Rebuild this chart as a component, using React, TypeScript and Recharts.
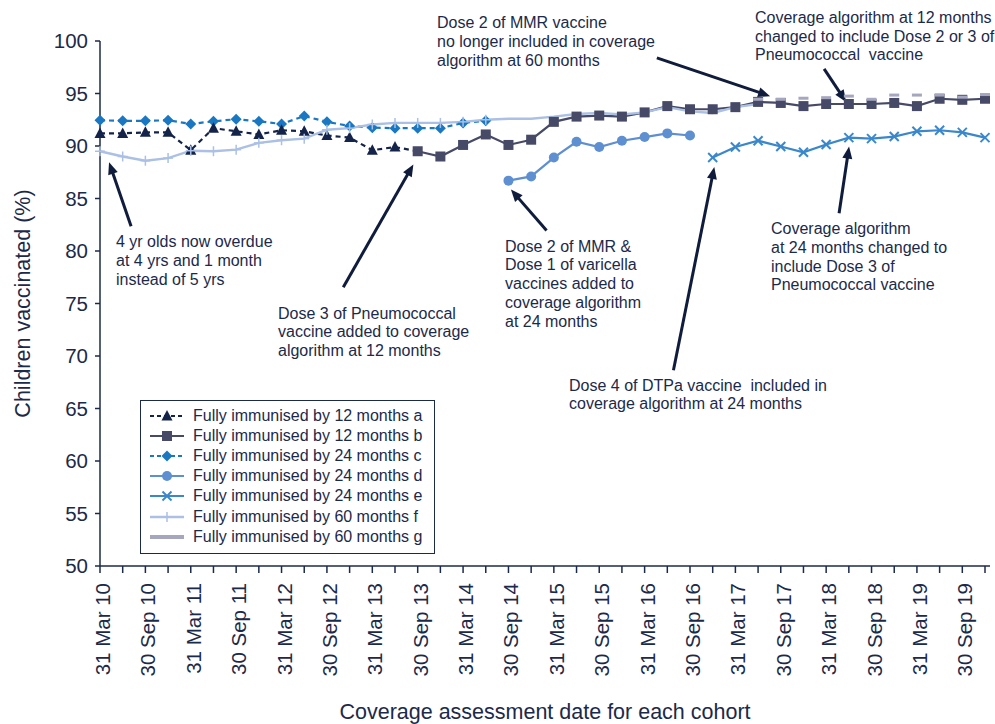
import React from "react";
import { LineChart, Line, XAxis, YAxis, ReferenceLine, Legend } from "recharts";

const INK = "#1c2a4a";
const ARROW = "#101c3c";
const FONT = '"Liberation Sans", Arial, Helvetica, sans-serif';

// quarterly cohorts, one row per assessment date
const quarters = [
  "31 Mar 10", "30 Jun 10", "30 Sep 10", "31 Dec 10",
  "31 Mar 11", "30 Jun 11", "30 Sep 11", "31 Dec 11",
  "31 Mar 12", "30 Jun 12", "30 Sep 12", "31 Dec 12",
  "31 Mar 13", "30 Jun 13", "30 Sep 13", "31 Dec 13",
  "31 Mar 14", "30 Jun 14", "30 Sep 14", "31 Dec 14",
  "31 Mar 15", "30 Jun 15", "30 Sep 15", "31 Dec 15",
  "31 Mar 16", "30 Jun 16", "30 Sep 16", "31 Dec 16",
  "31 Mar 17", "30 Jun 17", "30 Sep 17", "31 Dec 17",
  "31 Mar 18", "30 Jun 18", "30 Sep 18", "31 Dec 18",
  "31 Mar 19", "30 Jun 19", "30 Sep 19", "31 Dec 19",
];

const yTicks = [50, 55, 60, 65, 70, 75, 80, 85, 90, 95, 100];

// each series starts at a quarter index
const aStart = 0;
const aValues = [91.2, 91.2, 91.3, 91.3, 89.6, 91.7, 91.4, 91.1, 91.5, 91.4, 91.0, 90.8, 89.6, 89.9, 89.5];
const bStart = 14;
const bValues = [
  89.5, 89.0, 90.1, 91.1, 90.1, 90.6, 92.3, 92.8, 92.9, 92.8, 93.2, 93.8, 93.5,
  93.5, 93.7, 94.2, 94.1, 93.8, 94.0, 94.0, 94.0, 94.1, 93.8, 94.5, 94.4, 94.5,
];
const cStart = 0;
const cValues = [
  92.45, 92.4, 92.4, 92.45, 92.1, 92.35, 92.55, 92.35, 92.1, 92.85, 92.3, 91.9,
  91.75, 91.7, 91.7, 91.7, 92.2, 92.4,
];
const dStart = 18;
const dValues = [86.7, 87.1, 88.9, 90.4, 89.9, 90.5, 90.85, 91.2, 91.0];
const eStart = 27;
const eValues = [88.9, 89.9, 90.5, 89.95, 89.4, 90.15, 90.8, 90.7, 90.9, 91.4, 91.5, 91.3, 90.8];
const fStart = 0;
const fValues = [
  89.5, 89.0, 88.6, 88.85, 89.55, 89.5, 89.65, 90.3, 90.55, 90.7, 91.55, 91.7,
  92.05, 92.2, 92.2, 92.2, 92.3, 92.5, 92.6, 92.6, 92.8, 93.05, 93.15, 93.0,
  93.2, 93.7, 93.3, 93.15, 93.7, 94.0,
];
const fMarkedUntil = 17;
const gStart = 29;
const gValues = [94.45, 94.45, 94.55, 94.6, 94.75, 94.45, 94.85, 94.85, 94.85, 94.65, 94.9];

const pick = (values: number[], start: number, i: number) => {
  const v = values[i - start];
  return v === undefined ? null : v;
};

const rows = quarters.map((q, i) => ({
  idx: i,
  quarter: q,
  a: pick(aValues, aStart, i),
  b: pick(bValues, bStart, i),
  c: pick(cValues, cStart, i),
  d: pick(dValues, dStart, i),
  e: pick(eValues, eStart, i),
  f: pick(fValues, fStart, i),
  g: pick(gValues, gStart, i),
}));

type Shape = "triangle" | "square" | "diamond" | "circle" | "cross" | "plus" | "dash";

type SeriesDef = {
  key: string;
  name: string;
  color: string;
  shape: Shape;
  dashed?: boolean;
  width: number;
  noLine?: boolean;
};

const SERIES: SeriesDef[] = [
  { key: "a", name: "Fully immunised by 12 months a", color: "#14234a", shape: "triangle", dashed: true, width: 2.2 },
  { key: "b", name: "Fully immunised by 12 months b", color: "#464a67", shape: "square", width: 2.2 },
  { key: "c", name: "Fully immunised by 24 months c", color: "#1a78c2", shape: "diamond", dashed: true, width: 2.2 },
  { key: "d", name: "Fully immunised by 24 months d", color: "#5e8fd1", shape: "circle", width: 2.2 },
  { key: "e", name: "Fully immunised by 24 months e", color: "#3a87cb", shape: "cross", width: 2.2 },
  { key: "f", name: "Fully immunised by 60 months f", color: "#abc0e4", shape: "plus", width: 2.4 },
  { key: "g", name: "Fully immunised by 60 months g", color: "#a6a6be", shape: "dash", width: 4, noLine: true },
];

// drawing order on the plot
const DRAW_ORDER = ["c", "a", "b", "d", "e", "f", "g"];

function Marker({ shape, cx, cy, color }: { shape: Shape; cx: number; cy: number; color: string }) {
  switch (shape) {
    case "triangle":
      return <polygon points={`${cx},${cy - 6} ${cx + 5.5},${cy + 4.5} ${cx - 5.5},${cy + 4.5}`} fill={color} />;
    case "square":
      return <rect x={cx - 5} y={cy - 5} width={10} height={10} fill={color} />;
    case "diamond":
      return <polygon points={`${cx},${cy - 5.5} ${cx + 5.5},${cy} ${cx},${cy + 5.5} ${cx - 5.5},${cy}`} fill={color} />;
    case "circle":
      return <circle cx={cx} cy={cy} r={5} fill={color} />;
    case "cross":
      return (
        <g stroke={color} strokeWidth={2}>
          <line x1={cx - 4.5} y1={cy - 4.5} x2={cx + 4.5} y2={cy + 4.5} />
          <line x1={cx - 4.5} y1={cy + 4.5} x2={cx + 4.5} y2={cy - 4.5} />
        </g>
      );
    case "plus":
      return (
        <g stroke={color} strokeWidth={1.5}>
          <line x1={cx - 5} y1={cy} x2={cx + 5} y2={cy} />
          <line x1={cx} y1={cy - 5} x2={cx} y2={cy + 5} />
        </g>
      );
    case "dash":
      return <rect x={cx - 5} y={cy - 1.5} width={10} height={3} fill={color} />;
  }
}

function makeDot(s: SeriesDef) {
  return (props: any) => {
    const { cx, cy, index, value } = props;
    const k = `${s.key}-${index}`;
    if (cx == null || cy == null || value == null) return <g key={k} />;
    // the dashed 12-month line runs into the first b square without its own marker
    if (s.key === "a" && index >= bStart) return <g key={k} />;
    if (s.key === "f" && index > fMarkedUntil) return <g key={k} />;
    return (
      <g key={k}>
        <Marker shape={s.shape} cx={cx} cy={cy} color={s.color} />
      </g>
    );
  };
}

function QuarterTick(props: any) {
  const { x, y, payload } = props;
  const i = payload.value;
  if (i % 2 !== 0) return <g />;
  const tx = x + 2.5;
  return (
    <text
      x={tx}
      y={y}
      transform={`rotate(-90, ${tx}, ${y})`}
      textAnchor="end"
      dominantBaseline="central"
      fontSize={20.5}
      fill={INK}
      fontFamily={FONT}
    >
      {quarters[i]}
    </text>
  );
}

function ArrowShape(props: any) {
  const { x1, y1, x2, y2 } = props;
  const dx = x2 - x1;
  const dy = y2 - y1;
  const len = Math.sqrt(dx * dx + dy * dy) || 1;
  const ux = dx / len;
  const uy = dy / len;
  const head = 12;
  const half = 5;
  const bx = x2 - ux * head;
  const by = y2 - uy * head;
  return (
    <g>
      <line x1={x1} y1={y1} x2={bx + ux * 2} y2={by + uy * 2} stroke={ARROW} strokeWidth={3} />
      <polygon
        points={`${x2},${y2} ${bx - uy * half},${by + ux * half} ${bx + uy * half},${by - ux * half}`}
        fill={ARROW}
      />
    </g>
  );
}

// arrows in data space: quarter index and percent
const arrows = [
  { from: { x: 1.37, y: 82.35 }, to: { x: 0.4, y: 88.45 } },
  { from: { x: 10.72, y: 76.55 }, to: { x: 13.81, y: 88.25 } },
  { from: { x: 19.68, y: 81.95 }, to: { x: 18.11, y: 85.85 } },
  { from: { x: 25.27, y: 68.65 }, to: { x: 27.07, y: 88.0 } },
  { from: { x: 24.54, y: 98.4 }, to: { x: 29.53, y: 94.75 } },
  { from: { x: 31.91, y: 97.35 }, to: { x: 32.88, y: 94.2 } },
  { from: { x: 32.57, y: 83.6 }, to: { x: 33.01, y: 89.95 } },
];

const notes = [
  { x: 116, y: 247, lines: ["4 yr olds now overdue", "at 4 yrs and 1 month", "instead of 5 yrs"] },
  { x: 278, y: 318.5, lines: ["Dose 3 of Pneumococcal", "vaccine added to coverage", "algorithm at 12 months"] },
  {
    x: 505,
    y: 251.5,
    lines: ["Dose 2 of MMR &", "Dose 1 of varicella", "vaccines added to", "coverage algorithm", "at 24 months"],
  },
  { x: 569, y: 390.5, lines: ["Dose 4 of DTPa vaccine  included in", "coverage algorithm at 24 months"] },
  { x: 437, y: 28.3, lines: ["Dose 2 of MMR vaccine", "no longer included in coverage", "algorithm at 60 months"] },
  {
    x: 755,
    y: 22.7,
    lines: ["Coverage algorithm at 12 months", "changed to include Dose 2 or 3 of", "Pneumococcal  vaccine"],
  },
  {
    x: 771,
    y: 234,
    lines: ["Coverage algorithm", "at 24 months changed to", "include Dose 3 of", "Pneumococcal vaccine"],
  },
];

function LegendSymbol({ s }: { s: SeriesDef }) {
  return (
    <svg width={34} height={14} style={{ display: "block" }}>
      <line
        x1={0}
        y1={7}
        x2={34}
        y2={7}
        stroke={s.color}
        strokeWidth={s.noLine ? 4 : s.width}
        strokeDasharray={s.dashed ? "4 3" : undefined}
      />
      {!s.noLine && <Marker shape={s.shape} cx={17} cy={7} color={s.color} />}
    </svg>
  );
}

function LegendBox() {
  return (
    <div
      style={{
        width: 295,
        height: 154,
        boxSizing: "border-box",
        border: `1px solid ${INK}`,
        background: "#fff",
        padding: "5px 0 0 9px",
        fontFamily: FONT,
      }}
    >
      {SERIES.map((s) => (
        <div key={s.key} style={{ display: "flex", alignItems: "center", height: 20.1 }}>
          <LegendSymbol s={s} />
          <span style={{ marginLeft: 9, fontSize: 16, color: INK, whiteSpace: "nowrap" }}>{s.name}</span>
        </div>
      ))}
    </div>
  );
}

export default function App() {
  const byKey = Object.fromEntries(SERIES.map((s) => [s.key, s]));
  return (
    <div style={{ position: "absolute", left: 0, top: 0, width: 995, height: 724, background: "#fff", fontFamily: FONT }}>
      <LineChart width={995} height={724} data={rows} margin={{ top: 41, right: 5, bottom: 0, left: 0 }}>
        <XAxis
          type="number"
          dataKey="idx"
          domain={[0, 39]}
          ticks={rows.map((r) => r.idx)}
          interval={0}
          padding={{ left: 0, right: 5 }}
          height={158}
          tickSize={7}
          tickMargin={10}
          tick={<QuarterTick />}
          axisLine={{ stroke: INK, strokeWidth: 1.5 }}
          tickLine={{ stroke: INK, strokeWidth: 1.5 }}
          label={{
            value: "Coverage assessment date for each cohort",
            position: "insideBottom",
            offset: 5,
            fill: INK,
            fontSize: 21.5,
            fontFamily: FONT,
          }}
        />
        <YAxis
          type="number"
          domain={[50, 100]}
          ticks={yTicks}
          interval={0}
          width={100}
          tickSize={5}
          tickMargin={7}
          tick={{ fontSize: 20.5, fill: INK, fontFamily: FONT }}
          axisLine={{ stroke: INK, strokeWidth: 1.5 }}
          tickLine={{ stroke: INK, strokeWidth: 1.5 }}
          label={{
            value: "Children vaccinated (%)",
            angle: -90,
            position: "insideLeft",
            offset: 22,
            fill: INK,
            fontSize: 21.5,
            fontFamily: FONT,
            style: { textAnchor: "middle" },
          }}
        />
        <Legend
          layout="vertical"
          align="center"
          verticalAlign="middle"
          content={<LegendBox />}
          wrapperStyle={{ position: "absolute", left: 140, top: 400, width: 295, height: 154 }}
        />
        {DRAW_ORDER.map((k) => {
          const s = byKey[k];
          return (
            <Line
              key={k}
              type="linear"
              dataKey={k}
              name={s.name}
              stroke={s.noLine ? "none" : s.color}
              strokeWidth={s.width}
              strokeDasharray={s.dashed ? "5 4" : undefined}
              dot={makeDot(s)}
              activeDot={false}
              legendType="none"
              isAnimationActive={false}
            />
          );
        })}
        {arrows.map((a, i) => (
          <ReferenceLine key={`arrow-${i}`} segment={[a.from, a.to]} shape={<ArrowShape />} />
        ))}
      </LineChart>
      <svg
        width={995}
        height={724}
        style={{ position: "absolute", left: 0, top: 0, pointerEvents: "none" }}
      >
        {notes.map((n, i) => (
          <text key={i} x={n.x} y={n.y} fontSize={16} fill={INK} fontFamily={FONT} style={{ whiteSpace: "pre" }}>
            {n.lines.map((l, j) => (
              <tspan key={j} x={n.x} dy={j === 0 ? 0 : 18.8}>
                {l}
              </tspan>
            ))}
          </text>
        ))}
      </svg>
    </div>
  );
}
